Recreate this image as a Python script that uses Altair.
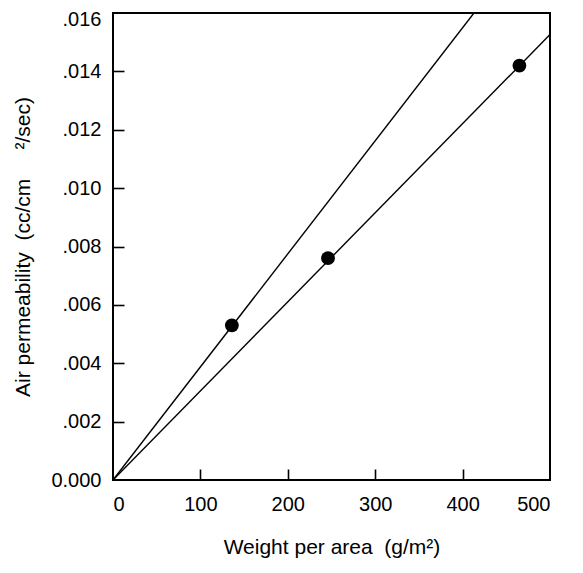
import altair as alt
import pandas as pd

weight = [136, 246, 465]
perm = [0.0053, 0.0076, 0.0142]

line_id = ["a", "a", "b", "b"]
line_w = [0, 413, 0, 500]
line_p = [0.0, 0.016, 0.0, 0.01526]

x_ticks = [0, 100, 200, 300, 400, 500]
y_ticks = [0.0, 0.002, 0.004, 0.006, 0.008, 0.010, 0.012, 0.014, 0.016]

pts = pd.DataFrame({"w": weight, "p": perm})
lines = pd.DataFrame({"id": line_id, "w": line_w, "p": line_p})

W, H = 437, 467
font = "Liberation Sans"
xscale = alt.Scale(domain=[0, 500], nice=False)
yscale = alt.Scale(domain=[0, 0.016], nice=False)
ylabel_expr = "datum.value == 0 ? '0.000' : replace(format(datum.value, '.3f'), '0.', '.')"

x_main = alt.Axis(title="Weight per area\u00a0\u00a0(g/m²)", values=x_ticks, ticks=False,
                  labelFontSize=20, titleFontSize=21, labelPadding=14, titlePadding=22,
                  domain=False, grid=False, labelFont=font, titleFont=font,
                  labelColor="black", titleColor="black", titleFontWeight="normal")
y_main = alt.Axis(title="Air permeability\u00a0\u00a0(cc/cm\u00a0\u00a0\u00a0\u00a0\u00a0²/sec)", values=y_ticks, ticks=False,
                  labelExpr=ylabel_expr,
                  labelOffset={"condition": {"test": "datum.value >= 0.0159", "value": 6}, "value": 0},
                  labelFontSize=20, titleFontSize=21, labelPadding=12, titlePadding=17,
                  domain=False, grid=False, labelFont=font, titleFont=font,
                  labelColor="black", titleColor="black", titleFontWeight="normal")

x_tick_axis = alt.Axis(orient="top", offset=-H, values=x_ticks[1:-1],
                       labelOpacity=0, labelFontSize=1, titleOpacity=0,
                       tickSize=11, tickWidth=1.6, tickColor="black",
                       domain=False, grid=False)
y_tick_axis = alt.Axis(orient="right", offset=-W, values=y_ticks[1:-1],
                       labelOpacity=0, labelFontSize=1, titleOpacity=0,
                       tickSize=11, tickWidth=1.6, tickColor="black",
                       domain=False, grid=False)

line_layer = alt.Chart(lines).mark_line(color="black", strokeWidth=1.4, clip=True).encode(
    x=alt.X("w:Q", scale=xscale, axis=x_tick_axis),
    y=alt.Y("p:Q", scale=yscale, axis=y_tick_axis),
    detail="id:N",
)

point_layer = alt.Chart(pts).mark_circle(color="black", opacity=1, size=190).encode(
    x=alt.X("w:Q", scale=xscale, axis=x_main),
    y=alt.Y("p:Q", scale=yscale, axis=y_main),
)

chart = alt.layer(line_layer, point_layer).resolve_axis(
    x="independent", y="independent"
).properties(
    width=W, height=H, background="white",
    autosize=alt.AutoSizeParams(type="none"),
    padding={"left": 105, "top": 5, "right": 25, "bottom": 85},
).configure_view(
    stroke="black", strokeWidth=2
)

chart.save("out.html", embed_options={"renderer": "svg", "actions": False})
